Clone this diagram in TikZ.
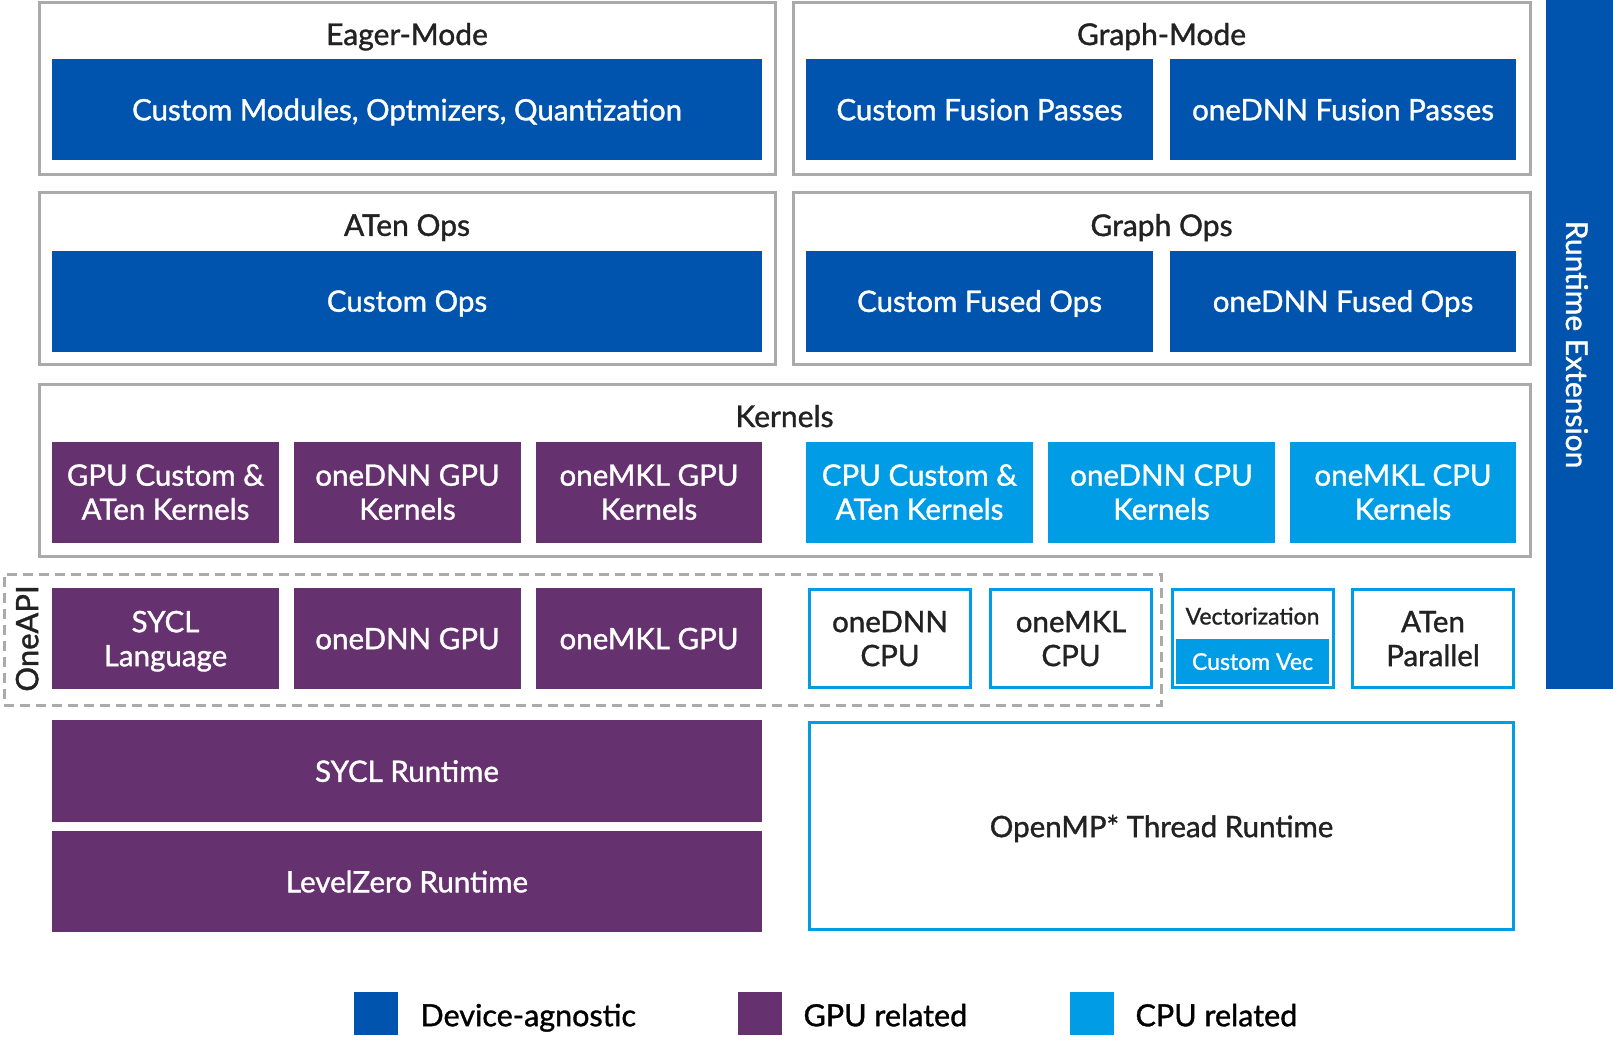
\documentclass[tikz,border=0pt]{standalone}
\usepackage{fontspec}
\setmainfont{Lato}
\newfontfamily\medfont{Lato}[FakeBold=1.2]
\definecolor{intelblue}{RGB}{0,84,174}
\definecolor{intelpurple}{RGB}{101,49,111}
\definecolor{intelcyan}{RGB}{0,156,230}
\definecolor{framegray}{RGB}{170,170,170}
\definecolor{textdark}{RGB}{34,34,34}
\usetikzlibrary{positioning}

\begin{document}
\begin{tikzpicture}[x=1pt, y=-1pt,
  lblfont/.style={font=\medfont\fontsize{29.5}{34}\selectfont, text depth=0pt},
  layerframe/.style={draw=framegray, line width=3pt, inner sep=0pt, minimum height=172},
  devbox/.style={fill=intelblue, text=white, lblfont, align=center, inner sep=0pt, minimum height=101},
  gpubox/.style={fill=intelpurple, text=white, lblfont, align=center, inner sep=0pt, minimum height=101},
  cpubox/.style={fill=intelcyan, text=white, lblfont, align=center, inner sep=0pt, minimum height=101},
  cpuline/.style={draw=intelcyan, line width=3pt, text=textdark, lblfont, align=center, inner sep=0pt, minimum width=161, minimum height=98},
  layertitle/.style={text=textdark, font=\medfont\fontsize{30}{34}\selectfont, text depth=0pt},
  legendbox/.style={inner sep=0pt, minimum width=44, minimum height=43},
  legendtext/.style={text=black, font=\medfont\fontsize{30.5}{34}\selectfont, anchor=west, text depth=0pt}]
  \useasboundingbox (0,0) rectangle (1613,1039);

  % Eager-mode / graph-mode
  \node[layerframe, minimum width=736] (eager) at (407,88) {};
  \node[layertitle] (eagertitle) at (407,34) {Eager-Mode};
  \node[devbox, minimum width=710] (custmod) at (407,109.5) {Custom Modules, Optmizers, Quantization};

  \node[layerframe, minimum width=737] (graph) at (1161.5,88) {};
  \node[layertitle] (graphtitle) at (1161.5,34) {Graph-Mode};
  \node[devbox, minimum width=347] (custfusion) at (979.5,109.5) {Custom Fusion Passes};
  \node[devbox, minimum width=346] (dnnfusion) at (1343,109.5) {oneDNN Fusion Passes};

  % Ops
  \node[layerframe, minimum width=736] (atenops) at (407,278.5) {};
  \node[layertitle] (atentitle) at (407,225) {ATen Ops};
  \node[devbox, minimum width=710] (custops) at (407,301) {Custom Ops};

  \node[layerframe, minimum width=737] (graphops) at (1161.5,278.5) {};
  \node[layertitle] (graphopstitle) at (1161.5,225) {Graph Ops};
  \node[devbox, minimum width=347] (custfused) at (979.5,301) {Custom Fused Ops};
  \node[devbox, minimum width=346] (dnnfused) at (1343,301) {oneDNN Fused Ops};

  % Kernels
  \node[layerframe, minimum width=1491] (kernels) at (784.5,470.5) {};
  \node[layertitle] (kerneltitle) at (784.5,416) {Kernels};
  \node[gpubox, minimum width=227] (gpukern) at (165.5,492) {GPU Custom \&\\ATen Kernels};
  \node[gpubox, minimum width=227] (dnngpukern) at (407.5,492) {oneDNN GPU\\Kernels};
  \node[gpubox, minimum width=226] (mklgpukern) at (649,492) {oneMKL GPU\\Kernels};
  \node[cpubox, minimum width=227] (cpukern) at (919.5,492) {CPU Custom \&\\ATen Kernels};
  \node[cpubox, minimum width=227] (dnncpukern) at (1161.5,492) {oneDNN CPU\\Kernels};
  \node[cpubox, minimum width=226] (mklcpukern) at (1403,492) {oneMKL CPU\\Kernels};

  % OneAPI libraries
  \node[draw=framegray, dashed, dash pattern=on 10pt off 6pt, line width=3pt, minimum width=1157, minimum height=131] (oneapi) at (582.5,639.5) {};
  \node[layertitle, rotate=90, font=\medfont\fontsize{31}{34}\selectfont] (oneapilabel) at (27,638.5) {OneAPI};
  \node[gpubox, minimum width=227] (sycl) at (165.5,638.5) {SYCL\\Language};
  \node[gpubox, minimum width=227] (dnngpu) at (407.5,638.5) {oneDNN GPU};
  \node[gpubox, minimum width=226] (mklgpu) at (649,638.5) {oneMKL GPU};

  \node[cpuline] (dnncpu) at (890,638.5) {oneDNN\\CPU};
  \node[cpuline] (mklcpu) at (1071,638.5) {oneMKL\\CPU};
  \node[cpuline] (vector) at (1252.5,638.5) {};
  \node[text=textdark, font=\medfont\fontsize{23}{26}\selectfont, text depth=0pt] (vectortitle) at (1252.5,616) {Vectorization};
  \node[cpubox, minimum width=153, minimum height=45, font=\medfont\fontsize{23}{26}\selectfont] (customvec) at (1252.5,661.5) {Custom Vec};
  \node[cpuline] (atenpar) at (1433,638.5) {ATen\\Parallel};

  % Runtimes
  \node[gpubox, minimum width=710, minimum height=102] (syclrt) at (407,771) {SYCL Runtime};
  \node[gpubox, minimum width=710, minimum height=101] (zerort) at (407,881.5) {LevelZero Runtime};
  \node[cpuline, minimum width=704, minimum height=207] (omprt) at (1161.5,826) {OpenMP* Thread Runtime};

  % Runtime extension bar
  \node[fill=intelblue, inner sep=0pt, minimum width=67, minimum height=689] (rtext) at (1579.5,344.5) {};
  \node[text=white, rotate=-90, font=\medfont\fontsize{30}{34}\selectfont, text depth=0pt] (rtextlabel) at (1577,344.5) {Runtime Extension};

  % Legend
  \node[legendbox, fill=intelblue] (legdev) at (376,1013.5) {};
  \node[legendtext] (legdevtext) at (417,1015) {Device-agnostic};
  \node[legendbox, fill=intelpurple] (leggpu) at (760,1013.5) {};
  \node[legendtext] (leggputext) at (800,1015) {GPU related};
  \node[legendbox, fill=intelcyan] (legcpu) at (1092,1013.5) {};
  \node[legendtext] (legcputext) at (1132,1015) {CPU related};
\end{tikzpicture}
\end{document}
